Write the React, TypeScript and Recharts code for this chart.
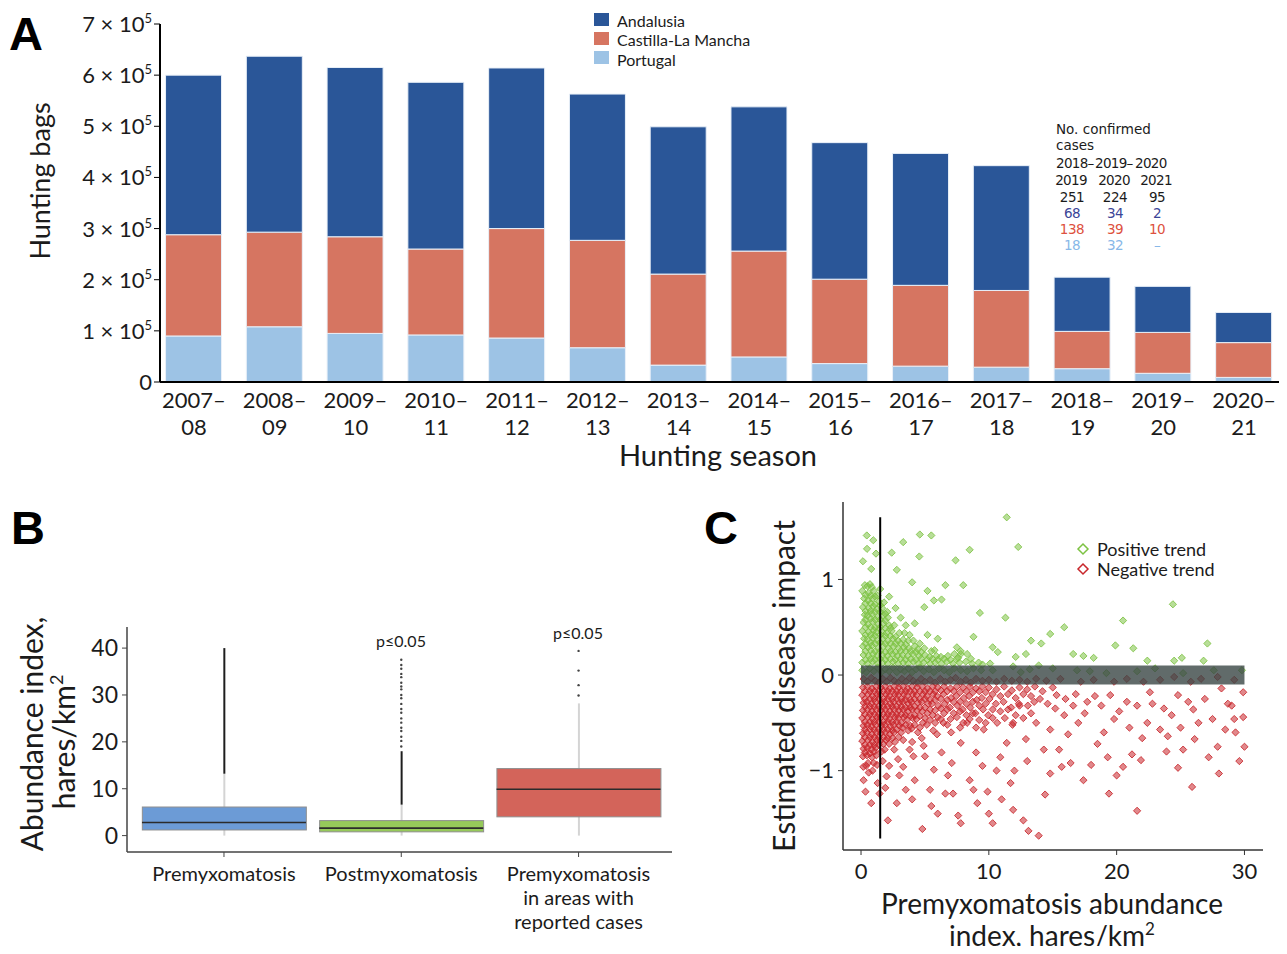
import React from "react";
import {
  Bar,
  BarChart,
  ComposedChart,
  ReferenceArea,
  ReferenceLine,
  Scatter,
  ScatterChart,
  XAxis,
  YAxis,
} from "recharts";

const FONT = "Lato, 'Open Sans', sans-serif";
const TABLE_FONT = "'DejaVu Sans', sans-serif";
const INK = "#1b1b1b";

// ---- Panel A: hunting bags by season ----
const seasonStart = ["2007–", "2008–", "2009–", "2010–", "2011–", "2012–", "2013–", "2014–", "2015–", "2016–", "2017–", "2018–", "2019–", "2020–"];
const seasonEnd = ["08", "09", "10", "11", "12", "13", "14", "15", "16", "17", "18", "19", "20", "21"];
const andalusia = [312000, 344000, 331000, 326000, 314000, 286000, 288000, 282000, 267000, 258000, 244000, 106000, 90000, 59000];
const castilla = [198000, 185000, 189000, 168000, 214000, 210000, 178000, 207000, 165000, 158000, 150000, 73000, 80000, 68000];
const portugal = [90000, 108000, 95000, 92000, 86000, 67000, 33000, 49000, 36000, 31000, 29000, 26000, 17000, 9000];
const bagTicks = [0, 100000, 200000, 300000, 400000, 500000, 600000, 700000];

const regionNames = ["Andalusia", "Castilla-La Mancha", "Portugal"];
const regionColors = ["#2A5698", "#D67561", "#9DC3E5"];

// confirmed cases table
const caseSeasonTop = ["2018–", "2019–", "2020"];
const caseSeasonBottom = ["2019", "2020", "2021"];
const casesTotal = ["251", "224", "95"];
const casesAndalusia = ["68", "34", "2"];
const casesCastilla = ["138", "39", "10"];
const casesPortugal = ["18", "32", "–"];

// ---- Panel B: abundance boxes ----
const groupLines = [["Premyxomatosis"], ["Postmyxomatosis"], ["Premyxomatosis", "in areas with", "reported cases"]];
const boxQ1 = [1.2, 0.8, 4.0];
const boxQ3 = [6.1, 3.2, 14.3];
const boxMedian = [2.8, 1.6, 9.9];
const whiskerLow = [0, 0, 0];
const whiskerHigh = [13.2, 6.6, 28.2];
const outlierRunLow = [13.2, 6.6, null];
const outlierRunHigh = [40, 18, null];
const postOutliers = [19, 20.2, 21.1, 22.3, 23, 24.1, 25, 26.2, 27, 28.1, 29.3, 30, 31.2, 31.8, 32.6, 33.8, 34.5, 35.6, 36.4, 37.5];
const casesOutliers = [29.9, 32.1, 35.2, 39.4];
const boxFills = ["#6C9BD6", "#96C95A", "#D3645A"];
const abundanceTicks = [0, 10, 20, 30, 40];

// ---- Panel C: disease impact vs abundance ----
const positiveTrend: [number, number][] = [
  [0.1, 0.13], [0.2, 0.21], [0.15, 0.3], [0.25, 0.38], [0.1, 0.46], [0.2, 0.55], [0.3, 0.63], [0.15, 0.71], [0.25, 0.8], [0.1, 0.88], [0.3, 0.94],
  [0.5, 0.12], [0.6, 0.2], [0.55, 0.29], [0.5, 0.37], [0.6, 0.45], [0.55, 0.53], [0.5, 0.62], [0.6, 0.7], [0.55, 0.78], [0.6, 0.86], [0.5, 0.93], [0.7, 0.95],
  [0.9, 0.14], [0.95, 0.22], [0.85, 0.31], [0.9, 0.39], [1.0, 0.47], [0.9, 0.56], [0.85, 0.64], [0.95, 0.72], [0.9, 0.8], [1.0, 0.88], [0.85, 0.92],
  [1.3, 0.12], [1.25, 0.2], [1.35, 0.28], [1.3, 0.36], [1.2, 0.45], [1.35, 0.53], [1.3, 0.61], [1.25, 0.69], [1.4, 0.77], [1.3, 0.83],
  [1.7, 0.13], [1.65, 0.21], [1.75, 0.3], [1.7, 0.38], [1.6, 0.46], [1.75, 0.54], [1.7, 0.62], [1.65, 0.7], [1.8, 0.76],
  [2.1, 0.12], [2.05, 0.2], [2.15, 0.28], [2.1, 0.36], [2.0, 0.44], [2.2, 0.52], [2.1, 0.6], [2.05, 0.66],
  [2.5, 0.14], [2.45, 0.22], [2.55, 0.3], [2.5, 0.38], [2.4, 0.46], [2.6, 0.52],
  [2.9, 0.12], [2.85, 0.2], [2.95, 0.28], [2.9, 0.36], [3.0, 0.44],
  [3.3, 0.13], [3.25, 0.21], [3.35, 0.29], [3.3, 0.37], [3.4, 0.44],
  [3.7, 0.12], [3.65, 0.2], [3.75, 0.28], [3.7, 0.36], [3.8, 0.42],
  [4.1, 0.14], [4.05, 0.22], [4.2, 0.3], [4.1, 0.36],
  [4.5, 0.12], [4.55, 0.2], [4.45, 0.27], [4.6, 0.33],
  [4.9, 0.13], [5.0, 0.21], [4.95, 0.28], [5.4, 0.12], [5.35, 0.19], [5.5, 0.25],
  [5.8, 0.13], [5.9, 0.2], [5.75, 0.26], [6.3, 0.12], [6.25, 0.19], [6.7, 0.14], [6.8, 0.2],
  [7.2, 0.12], [7.3, 0.22], [7.7, 0.13], [7.8, 0.25], [7.6, 0.18], [8.2, 0.14], [8.3, 0.22],
  [8.7, 0.12], [8.6, 0.17], [9.2, 0.13], [9.5, 0.11], [10.1, 0.12],
  [0.35, 0.16], [0.35, 0.25], [0.35, 0.33], [0.35, 0.42], [0.35, 0.5], [0.35, 0.58], [0.35, 0.67], [0.35, 0.75], [0.35, 0.84],
  [0.75, 0.17], [0.75, 0.26], [0.75, 0.34], [0.75, 0.42], [0.75, 0.5], [0.75, 0.59], [0.75, 0.67], [0.75, 0.75], [0.75, 0.83],
  [1.1, 0.16], [1.1, 0.25], [1.1, 0.33], [1.1, 0.41], [1.1, 0.5], [1.1, 0.58], [1.1, 0.66], [1.1, 0.74], [1.1, 0.82],
  [1.5, 0.17], [1.5, 0.25], [1.5, 0.34], [1.5, 0.42], [1.5, 0.5], [1.5, 0.58], [1.5, 0.66], [1.5, 0.73],
  [1.9, 0.16], [1.9, 0.24], [1.9, 0.33], [1.9, 0.41], [1.9, 0.49], [1.9, 0.57], [1.9, 0.64],
  [2.3, 0.17], [2.3, 0.25], [2.3, 0.33], [2.3, 0.41], [2.3, 0.49], [2.7, 0.16], [2.7, 0.24], [2.7, 0.33], [2.7, 0.4],
  [3.1, 0.17], [3.1, 0.25], [3.1, 0.33], [3.5, 0.16], [3.5, 0.25], [3.5, 0.32], [3.9, 0.17], [3.9, 0.25],
  [4.3, 0.16], [4.3, 0.24], [4.7, 0.17], [4.7, 0.24], [5.2, 0.16], [5.6, 0.17], [6.0, 0.16], [6.5, 0.17], [7.0, 0.16], [7.5, 0.17],
  [0.45, 1.46], [0.96, 1.41], [0.47, 1.32], [1.17, 1.27], [0.15, 1.19], [0.8, 1.11], [2.4, 1.28], [2.8, 1.1],
  [3.3, 1.39], [4.6, 1.47], [5.5, 1.46], [4.56, 1.24], [8.5, 1.31], [7.4, 1.2], [8.0, 0.94], [6.6, 0.94],
  [4.0, 0.97], [5.2, 0.88], [5.7, 0.78], [6.3, 0.79], [4.95, 0.71], [4.2, 0.54], [9.3, 0.65], [8.8, 0.4],
  [11.4, 1.65], [12.3, 1.34], [11.3, 0.6], [10.7, 0.24], [13.3, 0.36], [14.1, 0.33], [14.8, 0.43], [15.9, 0.5],
  [16.6, 0.22], [19.9, 0.31], [20.5, 0.57], [21.3, 0.28], [24.4, 0.74], [25.1, 0.18], [27.1, 0.33], [26.8, 0.15],
  [18.2, 0.18], [17.4, 0.2], [22.4, 0.15], [24.5, 0.15], [10.3, 0.29], [7.5, 0.29], [7.8, 0.22], [12.1, 0.19],
  [12.9, 0.22], [13.9, 0.1], [3.1, 0.6], [3.5, 0.52], [2.7, 0.7], [1.5, 0.9], [2.2, 0.82], [6.0, 0.38], [5.2, 0.42],
  [0.1, 0.05], [0.4, 0.03], [0.7, 0.07], [1.0, 0.04], [1.3, 0.08], [1.6, 0.03], [1.9, 0.06], [2.2, 0.04], [2.5, 0.08],
  [2.8, 0.03], [3.1, 0.06], [3.4, 0.04], [3.7, 0.07], [4.0, 0.03], [4.3, 0.06], [4.6, 0.08], [4.9, 0.04], [5.3, 0.06],
  [5.7, 0.03], [6.1, 0.07], [6.5, 0.05], [6.9, 0.03], [7.3, 0.07], [7.8, 0.05], [8.3, 0.04], [8.8, 0.07], [9.4, 0.05],
  [10.3, 0.05], [11.9, 0.09], [15.0, 0.07], [16.9, 0.05], [17.9, 0.04], [19.2, 0.02], [21.6, 0.04], [23.0, 0.07],
  [25.2, 0.02], [27.6, 0.05], [29.8, 0.05], [13.2, 0.06], [12.5, 0.03],
];

const negativeTrend: [number, number][] = [
  [0.15, -0.13], [0.1, -0.21], [0.2, -0.29], [0.15, -0.37], [0.1, -0.45], [0.2, -0.53], [0.15, -0.61], [0.1, -0.69], [0.2, -0.77], [0.15, -0.85],
  [0.5, -0.12], [0.55, -0.2], [0.45, -0.28], [0.5, -0.36], [0.55, -0.44], [0.5, -0.52], [0.45, -0.6], [0.55, -0.68], [0.5, -0.76], [0.45, -0.84], [0.55, -0.92],
  [0.85, -0.14], [0.9, -0.22], [0.8, -0.3], [0.85, -0.38], [0.9, -0.46], [0.8, -0.54], [0.85, -0.62], [0.9, -0.7], [0.8, -0.78], [0.85, -0.86],
  [1.2, -0.12], [1.25, -0.2], [1.15, -0.28], [1.2, -0.36], [1.25, -0.44], [1.15, -0.52], [1.2, -0.6], [1.25, -0.68], [1.15, -0.76], [1.2, -0.84], [1.25, -0.94],
  [1.55, -0.13], [1.5, -0.21], [1.6, -0.29], [1.55, -0.37], [1.5, -0.45], [1.6, -0.53], [1.55, -0.61], [1.5, -0.69], [1.6, -0.8],
  [1.9, -0.12], [1.95, -0.2], [1.85, -0.28], [1.9, -0.36], [1.95, -0.44], [1.85, -0.52], [1.9, -0.6], [1.95, -0.68], [1.85, -0.78],
  [2.25, -0.14], [2.2, -0.22], [2.3, -0.3], [2.25, -0.38], [2.2, -0.46], [2.3, -0.54], [2.25, -0.62], [2.2, -0.72],
  [2.6, -0.12], [2.65, -0.2], [2.55, -0.28], [2.6, -0.36], [2.65, -0.44], [2.55, -0.52], [2.6, -0.6], [2.65, -0.7],
  [2.95, -0.13], [2.9, -0.21], [3.0, -0.29], [2.95, -0.37], [2.9, -0.45], [3.0, -0.53], [2.95, -0.65],
  [3.3, -0.12], [3.35, -0.2], [3.25, -0.28], [3.3, -0.36], [3.35, -0.44], [3.25, -0.55], [3.3, -0.68],
  [3.65, -0.14], [3.6, -0.22], [3.7, -0.3], [3.65, -0.38], [3.6, -0.47], [3.7, -0.58],
  [4.0, -0.12], [4.05, -0.2], [3.95, -0.28], [4.0, -0.36], [4.05, -0.45], [3.95, -0.56], [4.0, -0.7],
  [4.4, -0.13], [4.35, -0.21], [4.45, -0.29], [4.4, -0.37], [4.35, -0.46], [4.45, -0.6],
  [4.8, -0.12], [4.85, -0.2], [4.75, -0.28], [4.8, -0.38], [4.85, -0.5], [4.75, -0.66],
  [5.2, -0.14], [5.15, -0.22], [5.25, -0.3], [5.2, -0.4], [5.15, -0.52],
  [5.6, -0.12], [5.65, -0.2], [5.55, -0.3], [5.6, -0.42], [5.65, -0.58],
  [6.0, -0.13], [5.95, -0.22], [6.05, -0.32], [6.0, -0.44], [5.95, -0.62],
  [6.5, -0.12], [6.45, -0.2], [6.55, -0.3], [6.5, -0.4], [6.45, -0.5],
  [7.0, -0.14], [7.05, -0.24], [6.95, -0.34], [7.0, -0.46], [7.05, -0.6],
  [7.5, -0.12], [7.45, -0.22], [7.55, -0.32], [7.5, -0.44],
  [8.0, -0.13], [8.05, -0.24], [7.95, -0.36], [8.0, -0.5],
  [8.5, -0.12], [8.45, -0.22], [8.55, -0.34], [8.5, -0.46],
  [9.0, -0.14], [9.05, -0.26], [8.95, -0.4], [9.0, -0.55],
  [9.5, -0.12], [9.45, -0.24], [9.55, -0.36], [10.0, -0.13], [10.05, -0.25], [9.95, -0.42],
  [10.6, -0.15], [10.55, -0.3], [10.65, -0.5], [11.2, -0.12], [11.15, -0.28], [11.25, -0.45],
  [11.8, -0.16], [11.75, -0.34], [11.85, -0.52], [12.4, -0.13], [12.35, -0.3], [13.0, -0.15], [13.05, -0.32],
  [13.6, -0.12], [13.55, -0.28], [14.2, -0.17], [15.0, -0.13],
  [0.3, -0.17], [0.3, -0.25], [0.3, -0.33], [0.3, -0.41], [0.3, -0.49], [0.3, -0.57], [0.3, -0.65], [0.3, -0.73], [0.3, -0.81],
  [0.7, -0.17], [0.7, -0.25], [0.7, -0.33], [0.7, -0.41], [0.7, -0.49], [0.7, -0.57], [0.7, -0.65], [0.7, -0.73], [0.7, -0.82],
  [1.05, -0.17], [1.05, -0.25], [1.05, -0.33], [1.05, -0.41], [1.05, -0.49], [1.05, -0.57], [1.05, -0.65], [1.05, -0.73], [1.05, -0.8],
  [1.4, -0.17], [1.4, -0.25], [1.4, -0.33], [1.4, -0.41], [1.4, -0.49], [1.4, -0.57], [1.4, -0.65], [1.4, -0.73],
  [1.75, -0.17], [1.75, -0.25], [1.75, -0.33], [1.75, -0.41], [1.75, -0.49], [1.75, -0.57], [1.75, -0.65], [1.75, -0.72],
  [2.1, -0.17], [2.1, -0.25], [2.1, -0.33], [2.1, -0.41], [2.1, -0.49], [2.1, -0.57], [2.1, -0.66],
  [2.45, -0.17], [2.45, -0.25], [2.45, -0.33], [2.45, -0.41], [2.45, -0.49], [2.45, -0.58], [2.45, -0.66],
  [2.8, -0.17], [2.8, -0.25], [2.8, -0.33], [2.8, -0.41], [2.8, -0.49], [2.8, -0.57],
  [3.15, -0.17], [3.15, -0.25], [3.15, -0.33], [3.15, -0.41], [3.15, -0.5], [3.15, -0.6],
  [3.5, -0.17], [3.5, -0.26], [3.5, -0.34], [3.5, -0.42], [3.5, -0.52],
  [3.85, -0.17], [3.85, -0.26], [3.85, -0.34], [3.85, -0.43], [3.85, -0.53],
  [4.2, -0.17], [4.2, -0.25], [4.2, -0.33], [4.2, -0.42], [4.2, -0.52],
  [4.6, -0.17], [4.6, -0.25], [4.6, -0.34], [4.6, -0.43], [4.6, -0.55],
  [5.0, -0.17], [5.0, -0.25], [5.0, -0.34], [5.0, -0.45], [5.4, -0.17], [5.4, -0.26], [5.4, -0.36], [5.4, -0.47],
  [5.8, -0.17], [5.8, -0.26], [5.8, -0.37], [5.8, -0.5], [6.25, -0.16], [6.25, -0.25], [6.25, -0.35], [6.25, -0.46],
  [6.75, -0.17], [6.75, -0.26], [6.75, -0.36], [6.75, -0.52], [7.25, -0.17], [7.25, -0.28], [7.25, -0.4],
  [7.75, -0.18], [7.75, -0.28], [7.75, -0.38], [7.75, -0.55], [8.25, -0.17], [8.25, -0.3], [8.25, -0.42],
  [8.75, -0.18], [8.75, -0.28], [8.75, -0.4], [9.25, -0.17], [9.25, -0.32], [9.25, -0.47],
  [9.75, -0.18], [9.75, -0.3], [9.75, -0.5],
  [10.3, -0.2], [10.3, -0.45], [10.9, -0.22], [10.9, -0.38], [11.5, -0.2], [11.5, -0.36], [12.1, -0.24], [12.1, -0.42],
  [12.7, -0.2], [12.7, -0.45], [13.3, -0.22], [13.3, -0.4], [14.0, -0.25], [14.6, -0.3], [15.2, -0.35], [16.0, -0.25],
  [16.8, -0.2], [17.5, -0.4], [18.3, -0.22], [19.0, -0.6], [20.2, -0.38], [21.0, -0.55], [22.8, -0.3], [23.9, -0.8],
  [24.3, -0.42], [26.0, -0.36], [27.5, -0.46], [28.7, -0.3], [29.6, -0.9], [28.0, -1.03], [25.0, -0.55], [22.0, -0.66],
  [20.0, -1.05], [16.2, -0.62], [15.5, -0.78], [13.0, -0.9], [12.0, -1.0], [9.5, -0.95], [8.5, -1.1], [6.8, -1.05],
  [5.0, -0.85], [3.8, -0.78], [2.9, -0.88], [2.2, -0.95], [1.7, -0.9], [0.9, -1.0], [0.4, -0.95], [3.0, -1.05],
  [1.9, -1.18], [4.0, -1.3], [6.0, -1.45], [8.8, -1.2], [11.0, -1.3],
  [0.18, -0.96], [0.2, -1.1], [0.35, -1.22], [0.8, -1.34], [1.3, -1.13], [1.45, -1.24], [2.1, -1.52], [2.8, -1.34],
  [3.5, -1.2], [4.2, -1.1], [4.8, -1.61], [5.5, -1.37], [5.4, -1.2], [6.6, -1.24], [7.2, -1.24], [7.6, -1.47],
  [7.8, -1.55], [9.1, -1.34], [9.9, -1.22], [10.0, -1.45], [10.3, -1.55], [10.6, -1.0], [11.7, -1.13], [11.9, -1.41],
  [12.7, -1.52], [13.1, -1.63], [13.9, -1.68], [14.4, -1.25], [14.8, -1.03], [15.7, -0.96], [16.4, -0.92], [17.4, -1.1],
  [18.0, -0.94], [18.5, -0.72], [19.3, -0.86], [19.4, -1.24], [20.5, -0.96], [21.2, -0.83], [21.6, -1.42], [21.9, -0.89],
  [22.4, -0.5], [23.4, -0.57], [24.0, -0.64], [24.8, -0.97], [25.2, -0.78], [25.9, -1.17], [26.1, -0.67], [26.4, -0.5],
  [27.2, -0.86], [27.9, -0.75], [28.5, -0.57], [29.2, -0.46], [29.3, -0.6], [29.9, -0.44], [30.0, -0.75], [29.9, -0.18],
  [29.0, -0.32], [28.2, -0.14], [26.9, -0.25], [25.6, -0.28], [24.8, -0.21], [23.7, -0.35], [22.6, -0.18], [21.6, -0.32],
  [20.8, -0.28], [19.8, -0.46], [19.5, -0.21], [18.8, -0.32], [17.7, -0.28], [17.0, -0.5], [16.6, -0.32], [15.9, -0.42],
  [15.3, -0.21], [14.8, -0.57], [14.3, -0.78], [13.7, -0.5], [12.9, -0.67], [12.4, -0.32], [11.9, -0.5], [11.4, -0.71],
  [10.9, -0.86], [10.3, -0.36], [9.6, -0.57], [9.0, -0.81], [8.3, -0.5], [7.8, -0.71], [7.1, -0.92], [6.3, -0.81],
  [5.7, -0.99], [4.9, -0.74], [4.1, -0.85], [3.3, -0.96], [2.6, -0.78], [2.0, -1.06], [1.0, -0.92], [0.6, -1.02],
  [0.2, -0.04], [0.5, -0.07], [0.8, -0.03], [1.1, -0.06], [1.4, -0.08], [1.7, -0.04], [2.0, -0.07], [2.3, -0.03],
  [2.6, -0.06], [2.9, -0.08], [3.2, -0.04], [3.5, -0.07], [3.8, -0.03], [4.1, -0.06], [4.4, -0.08], [4.7, -0.04],
  [5.0, -0.07], [5.4, -0.05], [5.8, -0.08], [6.2, -0.04], [6.6, -0.07], [7.0, -0.05], [7.4, -0.03], [7.8, -0.07],
  [8.2, -0.05], [8.6, -0.08], [9.0, -0.04], [9.5, -0.06], [10.0, -0.05], [10.6, -0.07], [11.2, -0.04], [11.8, -0.06],
  [12.4, -0.05], [13.0, -0.07], [13.7, -0.04], [14.5, -0.06], [15.6, -0.04], [17.2, -0.07], [18.2, -0.05], [19.8, -0.07],
  [20.8, -0.04], [22.1, -0.07], [23.4, -0.05], [24.5, -0.02], [25.8, -0.07], [26.6, -0.04], [27.9, -0.02], [29.2, -0.05],
];
const thresholdAbundance = 1.5;
const thresholdSpan = [-1.71, 1.65];
const neutralBand = [-0.1, 0.1];
const impactTicks = [-1, 0, 1];
const premyxTicks = [0, 10, 20, 30];

const GREEN = "#7DC243";
const RED = "#C8262B";

const barData = seasonStart.map((_, i) => ({
  idx: i,
  portugal: portugal[i],
  castilla: castilla[i],
  andalusia: andalusia[i],
}));

const boxData = boxQ1.map((q, i) => ({
  g: i,
  box: [q, boxQ3[i]],
  whisker: [whiskerLow[i], whiskerHigh[i]],
  run: outlierRunLow[i] != null ? [outlierRunLow[i], outlierRunHigh[i]] : null,
}));
const medianPts = boxMedian.map((m, i) => ({ g: i, v: m }));
const outlierPts = [
  ...postOutliers.map((v) => ({ g: 1, v })),
  ...casesOutliers.map((v) => ({ g: 2, v })),
];

const posPts = positiveTrend.map(([x, y]) => ({ x, y }));
const negPts = negativeTrend.map(([x, y]) => ({ x, y }));

const BagTick = ({ x, y, payload }: any) => {
  const n = payload.value / 100000;
  return (
    <text x={x} y={y} dy={8} textAnchor="end" fontSize={22} fontFamily={FONT} fill={INK}>
      {n === 0 ? "0" : `${n} × 10`}
      {n !== 0 && (
        <tspan dy={-9} fontSize={13}>
          5
        </tspan>
      )}
    </text>
  );
};

const SeasonTick = ({ x, y, payload }: any) => (
  <text x={x} y={y} textAnchor="middle" fontSize={22} fontFamily={FONT} fill={INK}>
    <tspan x={x} dy={18}>{seasonStart[payload.value]}</tspan>
    <tspan x={x} dy={26.5}>{seasonEnd[payload.value]}</tspan>
  </text>
);

const GroupTick = ({ x, y, payload }: any) => (
  <text x={x} y={y} textAnchor="middle" fontSize={20} fontFamily={FONT} fill={INK}>
    {(groupLines[payload.value] || []).map((l, k) => (
      <tspan key={k} x={x} dy={k === 0 ? 22 : 24}>
        {l}
      </tspan>
    ))}
  </text>
);

const BOX_W = 164;

const MedianShape = ({ cx, cy }: any) =>
  cx == null ? <g /> : <line x1={cx - BOX_W / 2} x2={cx + BOX_W / 2} y1={cy} y2={cy} stroke="#2b2b2b" strokeWidth={1.6} />;

const DotShape = ({ cx, cy }: any) => (cx == null ? <g /> : <circle cx={cx} cy={cy} r={1.2} fill="#444" />);

const diamondPath = (cx: number, cy: number, r: number) =>
  `M${cx},${cy - r}L${cx + r},${cy}L${cx},${cy + r}L${cx - r},${cy}Z`;

const diamond = (color: string) => (props: any) => {
  const { cx, cy } = props;
  if (cx == null || cy == null) return <g />;
  return (
    <path
      d={diamondPath(cx, cy, 3.6)}
      fill={color}
      fillOpacity={0.55}
      stroke={color}
      strokeOpacity={0.85}
      strokeWidth={1}
    />
  );
};

function Overlay() {
  const t = { fontFamily: FONT, fill: INK } as const;
  const bold = { fontFamily: "'Liberation Sans', Arial, sans-serif", fontWeight: 700, fontSize: 47, fill: "#000" };
  const colX = [1072, 1115, 1157];
  return (
    <svg width={1287} height={954} style={{ position: "absolute", left: 0, top: 0, pointerEvents: "none" }}>
      <text x={9} y={50} {...bold}>A</text>
      <text x={11} y={544} {...bold}>B</text>
      <text x={704} y={544} {...bold}>C</text>

      {/* panel A titles */}
      <text transform="translate(50,181) rotate(-90)" textAnchor="middle" fontSize={27} {...t}>
        Hunting bags
      </text>
      <text x={718} y={466} textAnchor="middle" fontSize={29} {...t}>
        Hunting season
      </text>
      {regionNames.map((n, i) => (
        <g key={n}>
          <rect x={594} y={13 + i * 19} width={15} height={13} fill={regionColors[i]} />
          <text x={617} y={27 + i * 19.3} fontSize={16} {...t}>
            {n}
          </text>
        </g>
      ))}

      {/* confirmed cases table */}
      <g fontFamily={TABLE_FONT} fontSize={13.5}>
        <text x={1056} y={134} fill={INK}>No. confirmed</text>
        <text x={1056} y={150} fill={INK}>cases</text>
        {caseSeasonTop.map((s, i) => (
          <text key={s + i} x={[1056, 1095, 1135][i]} y={168} fill={INK} letterSpacing={-0.7}>
            {s}
          </text>
        ))}
        {caseSeasonBottom.map((s, i) => (
          <text key={s} x={colX[i] - 1} y={184.5} textAnchor="middle" fill={INK} letterSpacing={-0.7}>
            {s}
          </text>
        ))}
        {[casesTotal, casesAndalusia, casesCastilla, casesPortugal].map((row, r) =>
          row.map((v, i) => (
            <text
              key={`${r}-${i}`}
              x={colX[i]}
              y={202 + r * 16}
              textAnchor="middle"
              letterSpacing={-0.5}
              fill={[INK, "#3B4597", "#DD5140", "#88B8E8"][r]}
            >
              {v}
            </text>
          ))
        )}
      </g>

      {/* panel B titles */}
      <text transform="translate(43,734) rotate(-90)" textAnchor="middle" fontSize={30} {...t}>
        Abundance index,
      </text>
      <text transform="translate(75,742) rotate(-90)" textAnchor="middle" fontSize={30} {...t}>
        hares/km<tspan dy={-12} fontSize={18}>2</tspan>
      </text>
      <text x={401} y={647} textAnchor="middle" fontSize={16} {...t}>
        p≤0.05
      </text>
      <text x={578} y={639} textAnchor="middle" fontSize={16} {...t}>
        p≤0.05
      </text>

      {/* panel C titles */}
      <text transform="translate(795,686) rotate(-90)" textAnchor="middle" fontSize={30} {...t}>
        Estimated disease impact
      </text>
      <text x={1052} y={914} textAnchor="middle" fontSize={28} {...t}>
        Premyxomatosis abundance
      </text>
      <text x={1052} y={946} textAnchor="middle" fontSize={28} {...t}>
        index, hares/km<tspan dy={-11} fontSize={17}>2</tspan>
      </text>
      <path d={diamondPath(1083, 549, 5)} fill="none" stroke={GREEN} strokeWidth={1.5} />
      <path d={diamondPath(1083, 569, 5)} fill="none" stroke={RED} strokeWidth={1.5} />
      <text x={1097} y={556} fontSize={18} {...t}>
        Positive trend
      </text>
      <text x={1097} y={576} fontSize={18} {...t}>
        Negative trend
      </text>
    </svg>
  );
}

export default function App() {
  return (
    <div style={{ position: "relative", width: 1287, height: 954, margin: -8, background: "#fff", fontFamily: FONT, overflow: "hidden" }}>
      <div style={{ position: "absolute", left: 0, top: 0 }}>
        <BarChart width={1287} height={470} data={barData} margin={{ top: 24, right: 5, bottom: 28, left: 0 }}>
          <XAxis
            type="number"
            dataKey="idx"
            domain={[-0.42, 13.47]}
            allowDataOverflow
            ticks={seasonStart.map((_, i) => i)}
            interval={0}
            tick={<SeasonTick />}
            tickLine={false}
            tickSize={6}
            tickMargin={2}
            height={60}
            axisLine={{ stroke: "#000", strokeWidth: 2 }}
          />
          <YAxis
            type="number"
            domain={[0, 700000]}
            ticks={bagTicks}
            interval={0}
            width={160}
            tick={<BagTick />}
            tickSize={6}
            tickMargin={2}
            tickLine={{ stroke: "#000" }}
            axisLine={{ stroke: "#000", strokeWidth: 2 }}
          />
          <Bar dataKey="portugal" stackId="s" fill={regionColors[2]} stroke="#e9f0f8" strokeWidth={1} barSize={56} isAnimationActive={false} />
          <Bar dataKey="castilla" stackId="s" fill={regionColors[1]} stroke="#e9f0f8" strokeWidth={1} barSize={56} isAnimationActive={false} />
          <Bar dataKey="andalusia" stackId="s" fill={regionColors[0]} stroke="#e9f0f8" strokeWidth={1} barSize={56} isAnimationActive={false} />
        </BarChart>
      </div>

      <div style={{ position: "absolute", left: 0, top: 600 }}>
        <ComposedChart width={700} height={354} data={boxData} margin={{ top: 27, right: 28, bottom: 0, left: 0 }}>
          <XAxis
            xAxisId="main"
            type="number"
            dataKey="g"
            domain={[-0.547, 2.527]}
            allowDataOverflow
            ticks={[0, 1, 2]}
            interval={0}
            tick={<GroupTick />}
            tickSize={5}
            tickMargin={2}
            height={102}
            tickLine={{ stroke: "#444" }}
            axisLine={{ stroke: "#444", strokeWidth: 1.5 }}
          />
          <XAxis xAxisId="whisker" type="number" dataKey="g" domain={[-0.547, 2.527]} allowDataOverflow hide />
          <XAxis xAxisId="run" type="number" dataKey="g" domain={[-0.547, 2.527]} allowDataOverflow hide />
          <YAxis
            type="number"
            domain={[-3.5, 44.5]}
            allowDataOverflow
            ticks={abundanceTicks}
            interval={0}
            width={127}
            tickSize={5}
            tickMargin={4}
            tick={{ fontSize: 23, fill: INK, fontFamily: FONT }}
            tickLine={{ stroke: "#444" }}
            axisLine={{ stroke: "#444", strokeWidth: 1.5 }}
          />
          <Bar xAxisId="whisker" dataKey="whisker" fill="#d4d4d4" barSize={2} isAnimationActive={false} />
          <Bar xAxisId="main" dataKey="box" barSize={BOX_W} isAnimationActive={false} shape={(p: any) => (
            <rect x={p.x} y={p.y} width={p.width} height={p.height} fill={boxFills[p.index]} stroke="#8f8f8f" strokeWidth={1} />
          )} />
          <Bar xAxisId="run" dataKey="run" fill="#1e1e1e" barSize={2} isAnimationActive={false} />
          <Scatter xAxisId="main" data={medianPts} dataKey="v" shape={<MedianShape />} isAnimationActive={false} />
          <Scatter xAxisId="main" data={outlierPts} dataKey="v" shape={<DotShape />} isAnimationActive={false} />
        </ComposedChart>
      </div>

      <div style={{ position: "absolute", left: 700, top: 480 }}>
        <ScatterChart width={587} height={474} margin={{ top: 22, right: 24, bottom: 0, left: 0 }}>
          <XAxis
            type="number"
            dataKey="x"
            domain={[-1.41, 31.45]}
            allowDataOverflow
            ticks={premyxTicks}
            interval={0}
            height={104}
            tickSize={5}
            tickMargin={8}
            tick={{ fontSize: 22, fill: INK, fontFamily: FONT }}
            tickLine={{ stroke: "#333" }}
            axisLine={{ stroke: "#333", strokeWidth: 1.5 }}
          />
          <YAxis
            type="number"
            dataKey="y"
            domain={[-1.83, 1.81]}
            allowDataOverflow
            ticks={impactTicks}
            interval={0}
            width={143}
            tickSize={5}
            tickMargin={4}
            tickFormatter={(v: number) => (v < 0 ? `−${-v}` : `${v}`)}
            tick={{ fontSize: 22, fill: INK, fontFamily: FONT }}
            tickLine={{ stroke: "#333" }}
            axisLine={{ stroke: "#333", strokeWidth: 1.5 }}
          />
          <Scatter data={posPts} shape={diamond(GREEN)} isAnimationActive={false} />
          <Scatter data={negPts} shape={diamond(RED)} isAnimationActive={false} />
          <ReferenceArea
            x1={0}
            x2={30}
            y1={neutralBand[0]}
            y2={neutralBand[1]}
            fill="#3A4645"
            fillOpacity={0.8}
            stroke="none"
            ifOverflow="visible"
            {...({ zIndex: 700 } as any)}
          />
          <ReferenceLine
            segment={[
              { x: thresholdAbundance, y: thresholdSpan[0] },
              { x: thresholdAbundance, y: thresholdSpan[1] },
            ]}
            stroke="#000"
            strokeWidth={2}
            ifOverflow="visible"
            {...({ zIndex: 800 } as any)}
          />
        </ScatterChart>
      </div>

      <Overlay />
    </div>
  );
}
